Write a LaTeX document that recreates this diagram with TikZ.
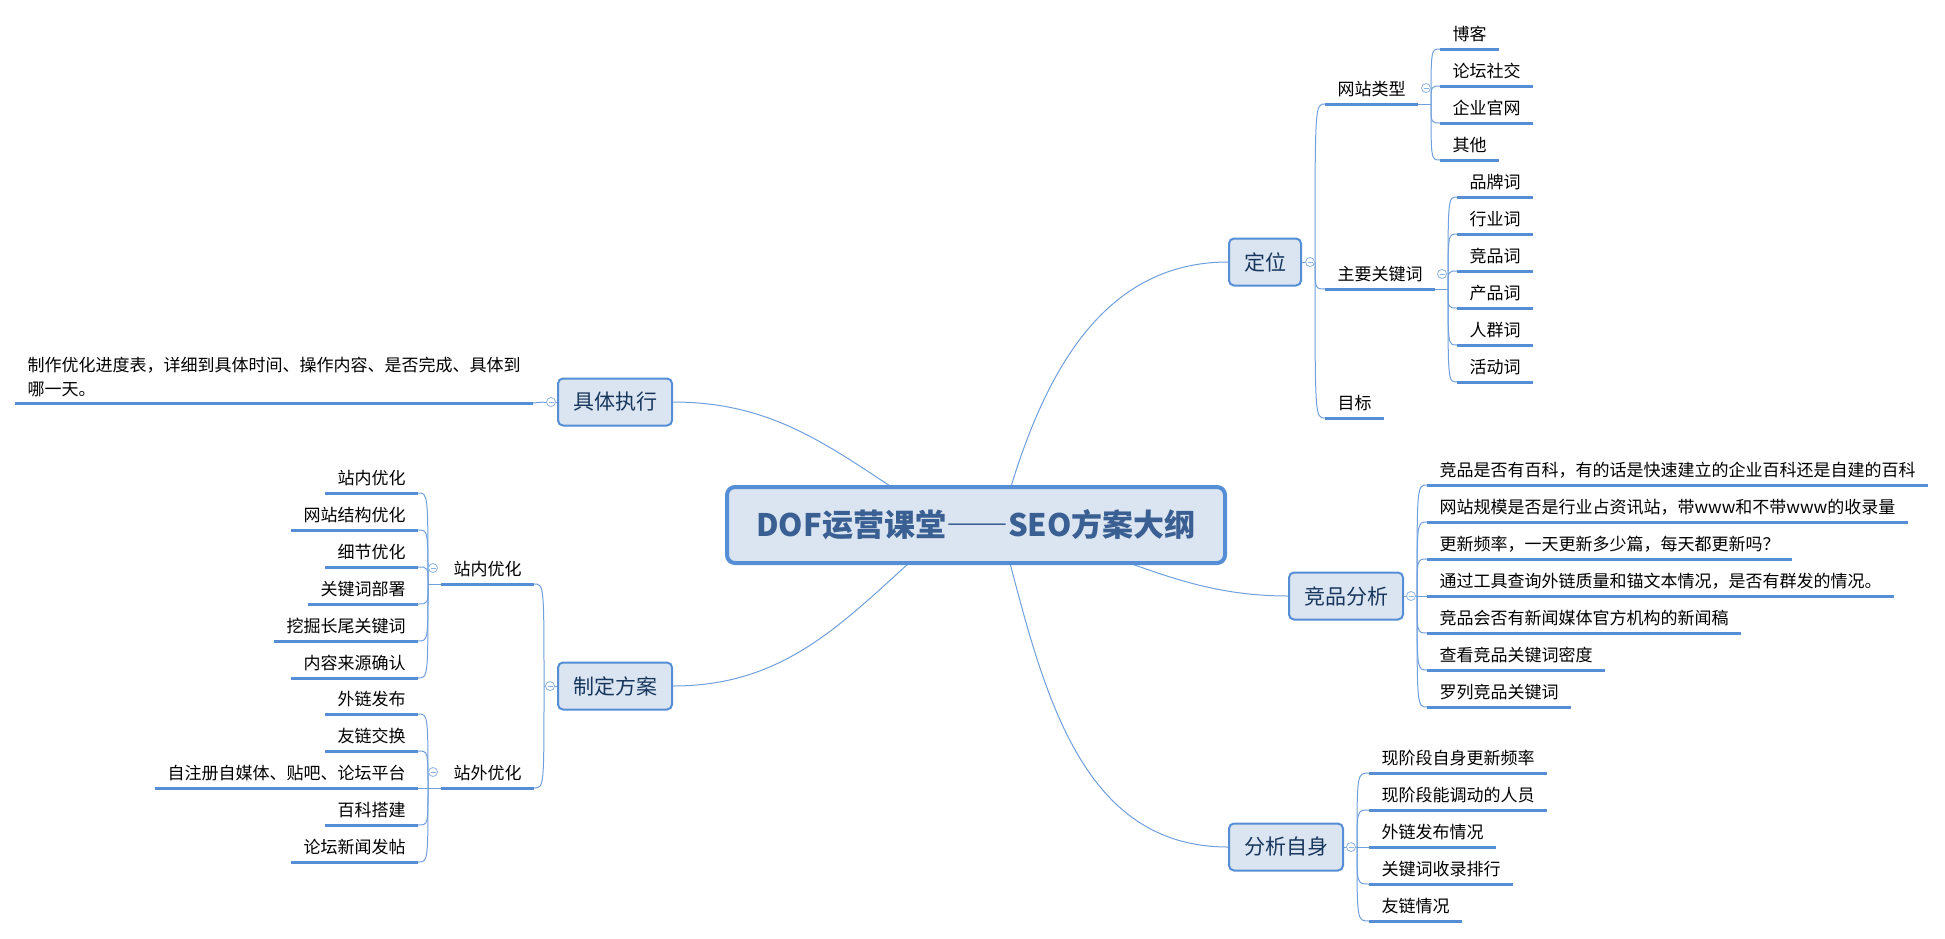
\documentclass[tikz,border=0pt]{standalone}
\usepackage{fontspec}
\setmainfont{Noto Sans CJK SC}
\usetikzlibrary{calc, backgrounds}
\definecolor{boxc}{HTML}{558ED5}
\definecolor{fillc}{HTML}{DBE5F1}
\definecolor{curvec}{HTML}{6F9FDC}
\definecolor{titlec}{HTML}{3A5F92}
\definecolor{navyc}{HTML}{17365D}
\definecolor{foldc}{HTML}{8EB4E3}
\newcommand{\leafR}[3]{%
  \node[leaf, anchor=south west] (#1) at #2 {#3};
  \draw[uline] (#1.south west) -- (#1.south east);
}
\newcommand{\leafL}[3]{%
  \node[leaf, anchor=south east] (#1) at #2 {#3};
  \draw[uline] (#1.south west) -- (#1.south east);
}
\begin{document}
\begin{tikzpicture}[x=1pt, y=-1pt, line width=1pt,
    root/.style={draw=boxc, fill=fillc, line width=4pt, rounded corners=8pt,
      minimum width=498pt, minimum height=76pt, text=titlec,
      font=\fontsize{31}{36}\selectfont\bfseries},
    topic/.style={draw=boxc, fill=fillc, line width=2pt, rounded corners=5pt,
      minimum height=47pt, inner xsep=15pt, text=navyc,
      font=\fontsize{21}{24}\selectfont},
    leaf/.style={inner xsep=12pt, inner ysep=0pt, text height=14pt,
      text depth=8pt, font=\fontsize{17}{24}\selectfont},
    note/.style={inner xsep=12pt, inner ysep=6pt, align=left,
      font=\fontsize{17}{24}\selectfont},
    uline/.style={draw=boxc, line width=3pt},
    branch/.style={draw=curvec, line width=1pt},
    fold/.style={circle, draw=foldc, fill=white, line width=0.8pt,
      minimum size=9pt, inner sep=0pt,
      path picture={\draw[foldc, line width=0.8pt]
        ([xshift=2pt]path picture bounding box.west) --
        ([xshift=-2pt]path picture bounding box.east);}}]
  \useasboundingbox (0,0) rectangle (1945,938);
  \node[root] (root) at (976,525)
    {DOF运营课堂{\addfontfeatures{CharacterWidth=Full}——}SEO方案大纲};
  \node[topic, anchor=west] (dw) at (1228,262) {定位};
  \node[topic, anchor=west] (jp) at (1288,596) {竞品分析};
  \node[topic, anchor=west] (zs) at (1228,847) {分析自身};
  \node[topic, anchor=east] (zx) at (673,402) {具体执行};
  \node[topic, anchor=east] (fa) at (673,686) {制定方案};
  \begin{scope}[on background layer]
    \coordinate (rr) at ($(root.center)+(24,0)$);
    \coordinate (rl) at ($(root.center)+(-24,0)$);
    \draw[branch] (rr) .. controls +(35,-131) and +(-136,0) .. (dw.west);
    \draw[branch] (rr) .. controls +(114,20) and +(-116,0) .. (jp.west);
    \draw[branch] (rr) .. controls +(40,150) and +(-155,0) .. (zs.west);
    \draw[branch] (rl) .. controls +(-103,-60) and +(119,0) .. (zx.east);
    \draw[branch] (rl) .. controls +(-96,81) and +(126,0) .. (fa.east);
  \end{scope}
  % 定位
  \coordinate (jdw) at ($(dw.east)+(13,0)$);
  \draw[branch] (dw.east) -- (jdw);
  \leafR{wzlx}{(1325,104)}{网站类型}
  \leafR{gjc}{(1325,289)}{主要关键词}
  \leafR{mb}{(1325,418)}{目标}
  \foreach \n in {wzlx, gjc, mb}
    \draw[branch] (jdw) .. controls (jdw |- \n.south west) .. (\n.south west);
  \coordinate (jwz) at ($(wzlx.south east)+(13,0)$);
  \draw[branch] (wzlx.south east) -- (jwz);
  \foreach \t [count=\i from 0] in {博客, 论坛社交, 企业官网, 其他} {
    \leafR{wz\i}{(1440,49+37*\i)}{\t}
    \draw[branch] (jwz) .. controls (jwz |- wz\i.south west) .. (wz\i.south west);
  }
  \coordinate (jgj) at ($(gjc.south east)+(13,0)$);
  \draw[branch] (gjc.south east) -- (jgj);
  \foreach \t [count=\i from 0] in {品牌词, 行业词, 竞品词, 产品词, 人群词, 活动词} {
    \leafR{gj\i}{(1457,197+37*\i)}{\t}
    \draw[branch] (jgj) .. controls (jgj |- gj\i.south west) .. (gj\i.south west);
  }
  % 竞品分析
  \coordinate (jjp) at ($(jp.east)+(13,0)$);
  \draw[branch] (jp.east) -- (jjp);
  \foreach \t [count=\i from 0] in {竞品是否有百科，有的话是快速建立的企业百科还是自建的百科,
      网站规模是否是行业占资讯站，带www和不带www的收录量,
      更新频率，一天更新多少篇，每天都更新吗？,
      通过工具查询外链质量和锚文本情况，是否有群发的情况。,
      竞品会否有新闻媒体官方机构的新闻稿, 查看竞品关键词密度, 罗列竞品关键词} {
    \leafR{jp\i}{(1427,485+37*\i)}{\t}
    \draw[branch] (jjp) .. controls (jjp |- jp\i.south west) .. (jp\i.south west);
  }
  % 分析自身
  \coordinate (jzs) at ($(zs.east)+(13,0)$);
  \draw[branch] (zs.east) -- (jzs);
  \foreach \t [count=\i from 0] in {现阶段自身更新频率, 现阶段能调动的人员,
      外链发布情况, 关键词收录排行, 友链情况} {
    \leafR{zs\i}{(1369,773+37*\i)}{\t}
    \draw[branch] (jzs) .. controls (jzs |- zs\i.south west) .. (zs\i.south west);
  }
  % 具体执行
  \coordinate (jzx) at ($(zx.west)+(-13,0)$);
  \draw[branch] (zx.west) -- (jzx);
  \node[note, anchor=south east] (jd) at (533,403)
    {制作优化进度表，详细到具体时间、操作内容、是否完成、具体到\\哪一天。};
  \draw[uline] (jd.south west) -- (jd.south east);
  \draw[branch] (jzx) -- (jd.south east);
  % 制定方案
  \coordinate (jfa) at ($(fa.west)+(-13,0)$);
  \draw[branch] (fa.west) -- (jfa);
  \leafL{zn}{(534,584)}{站内优化}
  \leafL{zw}{(534,788)}{站外优化}
  \foreach \n in {zn, zw}
    \draw[branch] (jfa) .. controls (jfa |- \n.south east) .. (\n.south east);
  \coordinate (jzn) at ($(zn.south west)+(-13,0)$);
  \draw[branch] (zn.south west) -- (jzn);
  \foreach \t [count=\i from 0] in {站内优化, 网站结构优化, 细节优化, 关键词部署,
      挖掘长尾关键词, 内容来源确认} {
    \leafL{zn\i}{(418,493+37*\i)}{\t}
    \draw[branch] (jzn) .. controls (jzn |- zn\i.south east) .. (zn\i.south east);
  }
  \coordinate (jzw) at ($(zw.south west)+(-13,0)$);
  \draw[branch] (zw.south west) -- (jzw);
  \foreach \t [count=\i from 0] in {外链发布, 友链交换, 自注册自媒体、贴吧、论坛平台,
      百科搭建, 论坛新闻发帖} {
    \leafL{zw\i}{(418,714+37*\i)}{\t}
    \draw[branch] (jzw) .. controls (jzw |- zw\i.south east) .. (zw\i.south east);
  }
  % fold marks
  \node[fold] (fdw) at ($(dw.east)+(8,0)$) {};
  \node[fold] (fjp) at ($(jp.east)+(7,0)$) {};
  \node[fold] (fzs) at ($(zs.east)+(7,0)$) {};
  \node[fold] (fzx) at ($(zx.west)+(-6,0)$) {};
  \node[fold] (ffa) at ($(fa.west)+(-7,0)$) {};
  \node[fold] (fwz) at ($(wzlx.south east)+(8,-16)$) {};
  \node[fold] (fgj) at ($(gjc.south east)+(7,-15)$) {};
  \node[fold] (fzn) at ($(zn.south west)+(-8,-16)$) {};
  \node[fold] (fzw) at ($(zw.south west)+(-8,-16)$) {};
\end{tikzpicture}
\end{document}
